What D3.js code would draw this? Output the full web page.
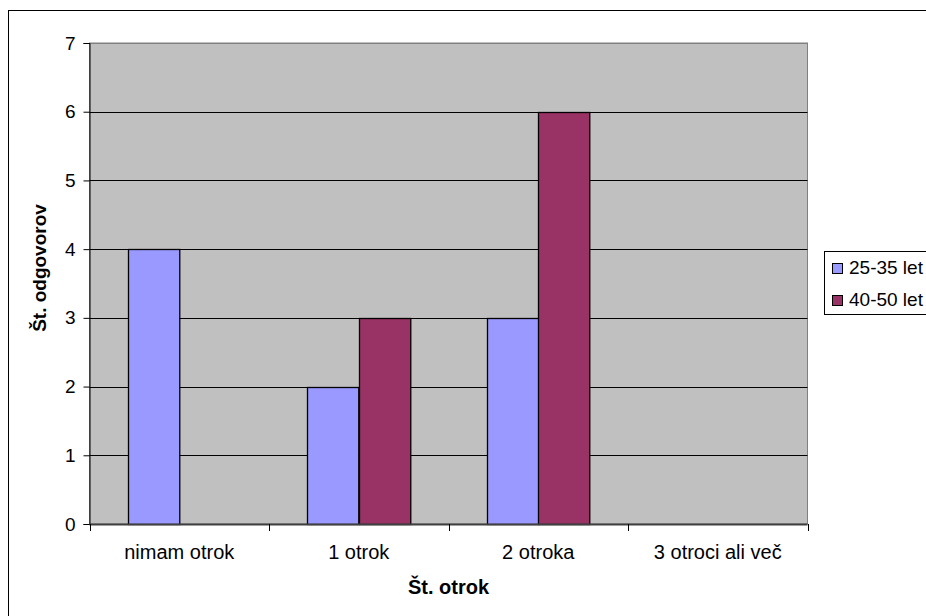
<!DOCTYPE html>
<html>
<head>
<meta charset="utf-8">
<script src="https://cdn.jsdelivr.net/npm/d3@7"></script>
<style>
html,body{margin:0;padding:0;background:#fff;}
svg{display:block;font-family:"Liberation Sans",Arial,sans-serif;}
</style>
</head>
<body>
<svg id="c" width="926" height="616"></svg>
<script>
const categories = ["nimam otrok", "1 otrok", "2 otroka", "3 otroci ali več"];
const seriesNames = ["25-35 let", "40-50 let"];
const values2535 = [4, 2, 3, 0];
const values4050 = [0, 3, 6, 0];
const yTicks = [0, 1, 2, 3, 4, 5, 6, 7];
const colors = ["#9999FF", "#993366"];
const xTitle = "Št. otrok";
const yTitle = "Št. odgovorov";

const seriesValues = [values2535, values4050];
const svg = d3.select("#c");

const L = 89.5, R = 807.5, T = 43, B = 524;

// outer chart border
svg.append("rect").attr("x", 8.5).attr("y", 10.5).attr("width", 940).attr("height", 640)
  .attr("fill", "#fff").attr("stroke", "#000").attr("stroke-width", 1);

const x = d3.scaleBand().domain(categories).range([L, R]).padding(0);
const xs = d3.scaleBand().domain(seriesNames).range([0, x.bandwidth()]).paddingInner(0).paddingOuter(0.75);
const y = d3.scaleLinear().domain([0, 7]).range([B, T]);

// plot area
svg.append("rect").attr("x", L).attr("y", T).attr("width", R - L).attr("height", B - T)
  .attr("fill", "#C0C0C0").attr("stroke", "#808080").attr("stroke-width", 1);

// gridlines
svg.append("g").selectAll("line").data(yTicks.filter(d => d > 0)).join("line")
  .attr("x1", L).attr("x2", R)
  .attr("y1", d => Math.round(y(d)) + 0.5).attr("y2", d => Math.round(y(d)) + 0.5)
  .attr("stroke", d => d === 7 ? "#808080" : "#000").attr("stroke-width", 1);

// bars
const rows = [];
categories.forEach((c, i) => seriesNames.forEach((s, j) => rows.push({c, s, v: seriesValues[j][i], j})));
svg.append("g").selectAll("rect").data(rows.filter(d => d.v > 0)).join("rect")
  .attr("x", d => Math.round(x(d.c) + xs(d.s)) + 0.5)
  .attr("y", d => Math.round(y(d.v)) + 0.5)
  .attr("width", xs.bandwidth())
  .attr("height", d => Math.round(y(0)) - Math.round(y(d.v)))
  .attr("fill", d => colors[d.j]).attr("stroke", "#000").attr("stroke-width", 1.3);

// y axis
const yAxis = d3.axisLeft(y).tickValues(yTicks).tickSize(6).tickPadding(8).tickFormat(d3.format("d"));
const gy = svg.append("g").attr("transform", `translate(${L},0)`).call(yAxis);
gy.select(".domain").attr("stroke", "#000");
gy.selectAll(".tick line").attr("stroke", "#000");
gy.selectAll(".tick text").attr("font-size", 19).attr("fill", "#000")
  .attr("font-family", "Liberation Sans, Arial, sans-serif");

// x axis
const gx = svg.append("g").attr("transform", `translate(0,${B})`);
gx.append("line").attr("x1", L).attr("x2", R).attr("y1", 0.5).attr("y2", 0.5).attr("stroke", "#404040").attr("stroke-width", 2);
const boundaries = categories.map(c => x(c)).concat([x(categories[categories.length - 1]) + x.bandwidth()]);
gx.selectAll("line.tk").data(boundaries).join("line").attr("class", "tk")
  .attr("x1", d => Math.round(d) + 0.5).attr("x2", d => Math.round(d) + 0.5)
  .attr("y1", 0).attr("y2", 7).attr("stroke", "#000");
gx.selectAll("text").data(categories).join("text")
  .attr("x", d => x(d) + x.bandwidth() / 2).attr("y", 35)
  .attr("text-anchor", "middle").attr("font-size", 20).attr("fill", "#000")
  .text(d => d);

// axis titles
svg.append("text").attr("x", (L + R) / 2).attr("y", 594).attr("text-anchor", "middle")
  .attr("font-size", 20).attr("font-weight", "bold").text(xTitle);
svg.append("text").attr("transform", "translate(46,268) rotate(-90)").attr("text-anchor", "middle")
  .attr("font-size", 19).attr("font-weight", "bold").text(yTitle);

// legend
const lg = svg.append("g");
lg.append("rect").attr("x", 824.5).attr("y", 251.5).attr("width", 140).attr("height", 63)
  .attr("fill", "#fff").attr("stroke", "#000").attr("stroke-width", 1);
seriesNames.forEach((s, i) => {
  const yy = 263 + i * 32;
  lg.append("rect").attr("x", 832.5).attr("y", yy + 0.5).attr("width", 10).attr("height", 10)
    .attr("fill", colors[i]).attr("stroke", "#000").attr("stroke-width", 1);
  lg.append("text").attr("x", 849).attr("y", yy + 10.5).attr("font-size", 19).attr("fill", "#000").text(s);
});
</script>
</body>
</html>
